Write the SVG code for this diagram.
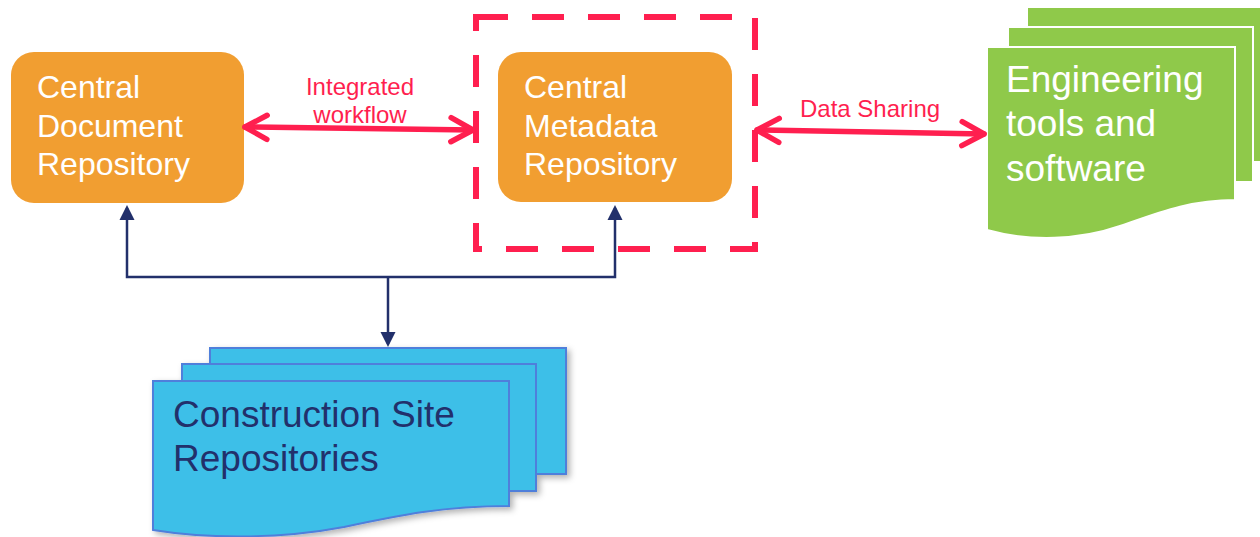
<svg xmlns="http://www.w3.org/2000/svg" width="1260" height="537" viewBox="0 0 1260 537">
<style>
  .box { fill: #F19E31; }
  .wt { fill: #FFFFFF; font-family: "Liberation Sans", Arial, sans-serif; font-size: 32px; }
  .gt { fill: #FFFFFF; font-family: "Liberation Sans", Arial, sans-serif; font-size: 37px; }
  .bt { fill: #22306B; font-family: "Liberation Sans", Arial, sans-serif; font-size: 37px; }
  .rt { fill: #FF1F4F; font-family: "Liberation Sans", Arial, sans-serif; font-size: 24px; }
  .green { fill: #8FC94A; stroke: #FFFFFF; stroke-width: 2; }
  .blue { fill: #3DBFE8; stroke: #4F7FDB; stroke-width: 2; }
  .red { stroke: #FF1F4F; stroke-width: 5.5; fill: none; stroke-linecap: round; }
  .navy { stroke: #22306B; stroke-width: 2.5; fill: none; }
</style>
<defs>
  <marker id="chev" viewBox="-30 -17 36 34" refX="0" refY="0" markerWidth="36" markerHeight="34" markerUnits="userSpaceOnUse" orient="auto-start-reverse">
    <path d="M-22,-12 L0,0 L-22,12" fill="none" stroke="#FF1F4F" stroke-width="5.5" stroke-linecap="round" stroke-linejoin="round"/>
  </marker>
  <marker id="tri" viewBox="-14 -9 18 18" refX="0" refY="0" markerWidth="18" markerHeight="18" markerUnits="userSpaceOnUse" orient="auto-start-reverse">
    <path d="M-12,-7.5 L3,0 L-12,7.5 Z" fill="#22306B"/>
  </marker>
  <filter id="sh" x="-10%" y="-10%" width="130%" height="130%">
    <feDropShadow dx="3" dy="3" stdDeviation="3" flood-color="#000000" flood-opacity="0.3"/>
  </filter>
</defs>

<g id="frame-metadata">
  <rect x="476" y="17" width="279" height="232" fill="none" stroke="#FF1F4F" stroke-width="6" stroke-dasharray="32 24"/>
</g>

<g id="node-document">
  <rect class="box" x="11" y="52" width="233" height="151" rx="23"/>
  <text class="wt" x="37" y="98">Central</text>
  <text class="wt" x="37" y="137">Document</text>
  <text class="wt" x="37" y="175">Repository</text>
</g>

<g id="node-metadata">
  <rect class="box" x="498" y="52" width="234" height="150" rx="23"/>
  <text class="wt" x="524" y="98">Central</text>
  <text class="wt" x="524" y="137">Metadata</text>
  <text class="wt" x="524" y="175">Repository</text>
</g>

<g id="node-engineering">
  <rect class="green" x="1027" y="7" width="240" height="155"/>
  <rect class="green" x="1008" y="27" width="245" height="155"/>
  <path class="green" d="M987,47 H1235 V200 C1190,200 1160,212 1120,226 C1080,240 1030,242 987,230 Z"/>
  <text class="gt" x="1006" y="92">Engineering</text>
  <text class="gt" x="1006" y="136">tools and</text>
  <text class="gt" x="1006" y="181">software</text>
</g>

<g id="node-construction">
  <g filter="url(#sh)">
    <rect class="blue" x="210" y="348" width="356" height="126"/>
    <rect class="blue" x="182" y="364" width="354" height="127"/>
    <path class="blue" d="M153,381 H509 V506 C444,506 400,515 344,527 C286,538 215,540 153,530 Z"/>
  </g>
  <text class="bt" x="173" y="427">Construction Site</text>
  <text class="bt" x="173" y="471">Repositories</text>
</g>

<g id="connectors">
  <path class="red" d="M245,127 L473,130" marker-start="url(#chev)" marker-end="url(#chev)"/>
  <path class="red" d="M757,130 L984,134" marker-start="url(#chev)" marker-end="url(#chev)"/>
  <path class="navy" d="M127,208 V277 H615 V208" marker-start="url(#tri)" marker-end="url(#tri)"/>
  <path class="navy" d="M388,277 V344" marker-end="url(#tri)"/>
  <text class="rt" x="360" y="95" text-anchor="middle">Integrated</text>
  <text class="rt" x="360" y="123" text-anchor="middle">workflow</text>
  <text class="rt" x="800" y="117">Data Sharing</text>
</g>
</svg>
